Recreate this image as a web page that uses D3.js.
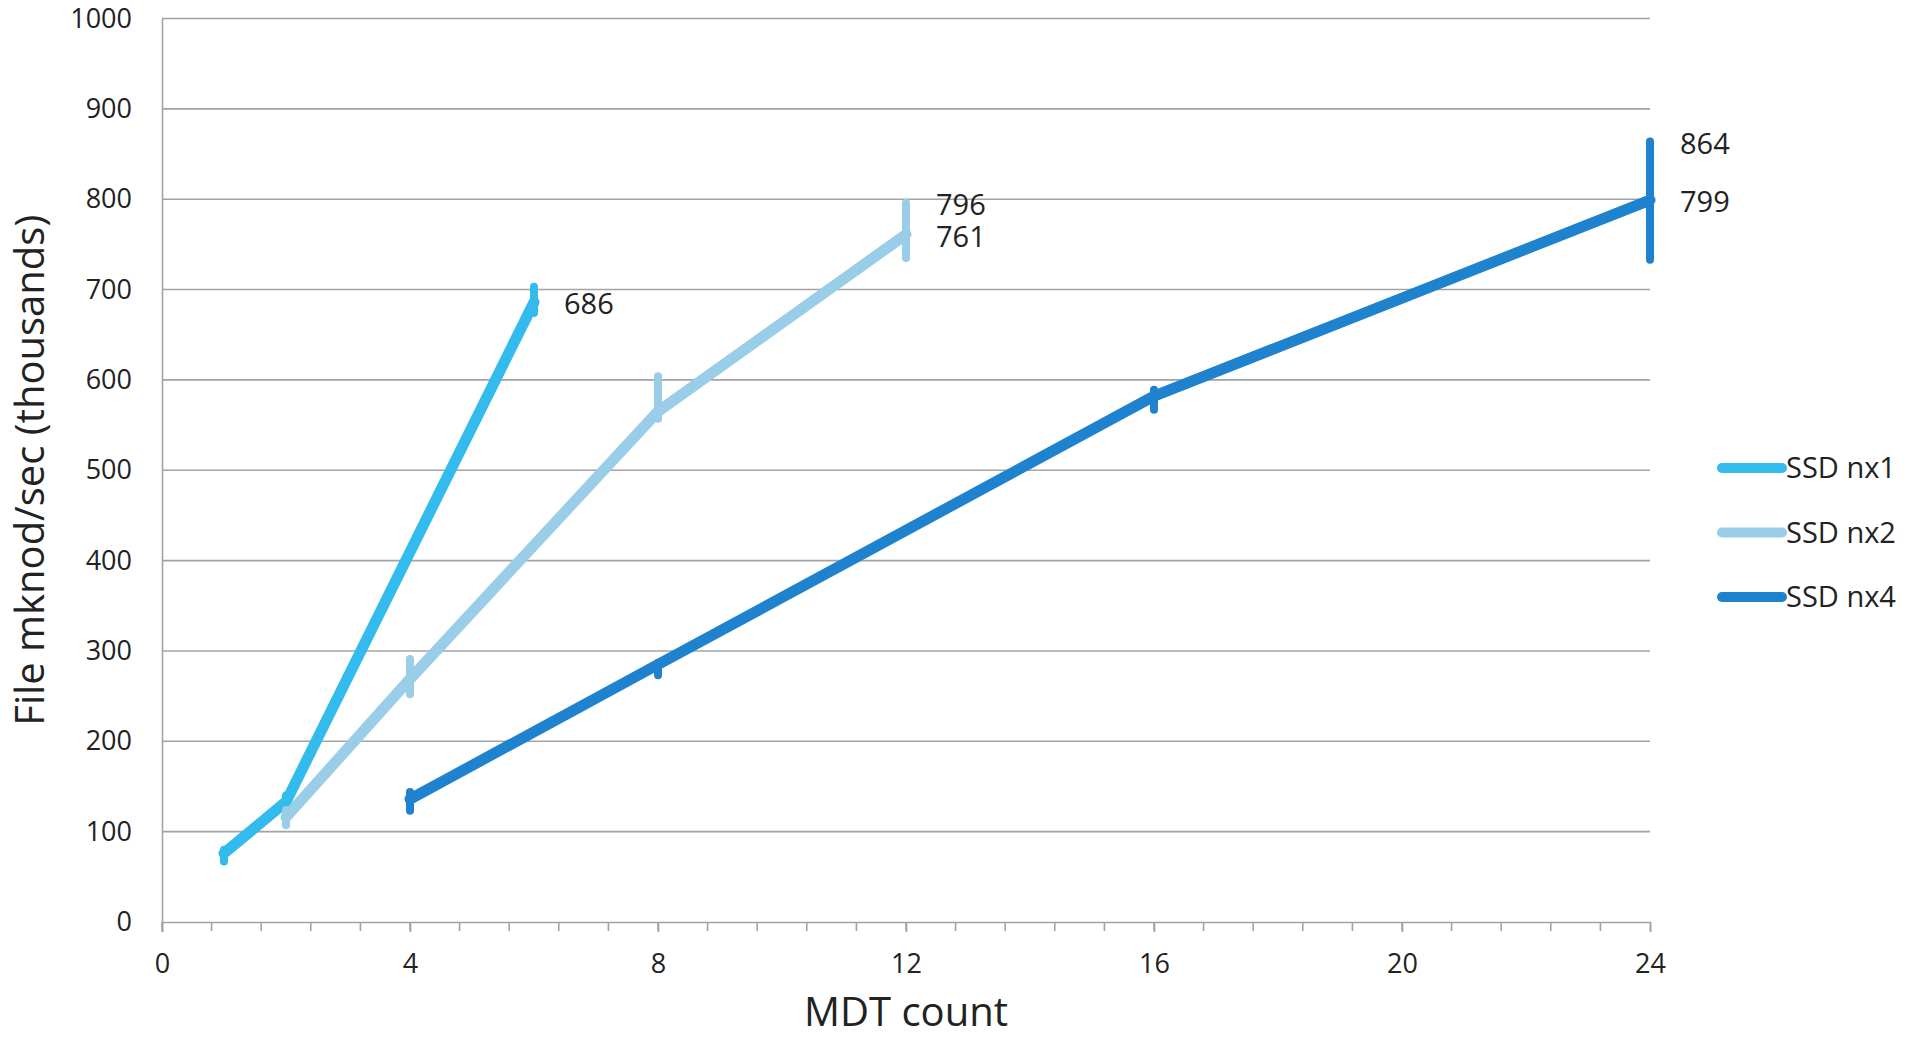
<!DOCTYPE html>
<html>
<head>
<meta charset="utf-8">
<script src="https://cdn.jsdelivr.net/npm/d3@7"></script>
<style>
  body { margin: 0; background: #fff; }
  text { font-family: "Open Sans", sans-serif; fill: #222; }
</style>
</head>
<body>
<div id="chart"></div>
<script>
// MDT count on x, mknod/sec (thousands) on y
const seriesNames = ["SSD nx1", "SSD nx2", "SSD nx4"];
const seriesColors = ["#33bbee", "#99cde8", "#1f82ce"];

const nx1X = [1, 2, 6];
const nx1Y = [76, 133, 686];
const nx1Lo = [67, 127, 674];
const nx1Hi = [80, 140, 703];

const nx2X = [2, 4, 8, 12];
const nx2Y = [116, 269, 565, 761];
const nx2Lo = [107, 252, 557, 735];
const nx2Hi = [124, 291, 604, 796];

const nx4X = [4, 8, 16, 24];
const nx4Y = [136, 285, 582, 799];
const nx4Lo = [123, 273, 567, 733];
const nx4Hi = [144, 287, 589, 864];

// labels shown at the right end of each series
const endLabels = [
    { x: 6, v: 686 },
    { x: 12, v: 796 },
    { x: 12, v: 761 },
    { x: 24, v: 864 },
    { x: 24, v: 799 }
];

const xTicks = [0, 4, 8, 12, 16, 20, 24];
const yTicks = [0, 100, 200, 300, 400, 500, 600, 700, 800, 900, 1000];

const width = 1907;
const height = 1038;
const margin = { top: 18.5, right: 257, bottom: 116, left: 162 };

const svg = d3.select("#chart")
    .append("svg")
    .attr("width", width)
    .attr("height", height);

const x = d3.scaleLinear()
    .domain([0, 24])
    .range([margin.left, width - margin.right]);

const y = d3.scaleLinear()
    .domain([0, 1000])
    .range([height - margin.bottom, margin.top]);

// gridlines
svg.append("g")
    .selectAll("line")
    .data(yTicks.slice(1))
    .join("line")
    .attr("x1", x(0))
    .attr("x2", x(24))
    .attr("y1", d => y(d))
    .attr("y2", d => y(d))
    .attr("stroke", "#a3a3a3")
    .attr("stroke-width", 1.6);

// y axis
const yAxis = svg.append("g")
    .attr("transform", `translate(${x(0)},0)`)
    .call(d3.axisLeft(y).tickValues(yTicks).tickFormat(d3.format("d")).tickSize(0).tickPadding(30));
yAxis.select(".domain").attr("stroke", "#a3a3a3").attr("stroke-width", 1.6);
yAxis.selectAll("text")
    .style("font-size", "27px")
    .style("font-family", "'Open Sans', sans-serif")
    .attr("fill", "#222");

// x axis, minor ticks every 0.8
const minorTicks = d3.range(0, 30).map(i => i * 0.8).filter(v => v <= 24.001);
svg.append("g")
    .selectAll("line")
    .data(minorTicks)
    .join("line")
    .attr("x1", d => x(d))
    .attr("x2", d => x(d))
    .attr("y1", y(0))
    .attr("y2", y(0) + 9)
    .attr("stroke", "#a3a3a3")
    .attr("stroke-width", 1.6);

const xAxis = svg.append("g")
    .attr("transform", `translate(0,${y(0)})`)
    .call(d3.axisBottom(x).tickValues(xTicks).tickSize(10).tickPadding(22));
xAxis.select(".domain").attr("stroke", "#a3a3a3").attr("stroke-width", 1.6);
xAxis.selectAll(".tick line").attr("stroke", "#a3a3a3").attr("stroke-width", 1.6);
xAxis.selectAll("text")
    .style("font-size", "27px")
    .style("font-family", "'Open Sans', sans-serif")
    .attr("fill", "#222");

// axis titles
svg.append("text")
    .attr("x", x(12))
    .attr("y", 1026)
    .attr("text-anchor", "middle")
    .style("font-size", "40px")
    .text("MDT count");

svg.append("text")
    .attr("transform", "rotate(-90)")
    .attr("x", -(y(0) + y(1000)) / 2)
    .attr("y", 44)
    .attr("text-anchor", "middle")
    .style("font-size", "40px")
    .text("File mknod/sec (thousands)");

// series
const series = [
    { xs: nx1X, ys: nx1Y, lo: nx1Lo, hi: nx1Hi },
    { xs: nx2X, ys: nx2Y, lo: nx2Lo, hi: nx2Hi },
    { xs: nx4X, ys: nx4Y, lo: nx4Lo, hi: nx4Hi }
];

const line = d3.line()
    .x(d => x(d[0]))
    .y(d => y(d[1]));

series.forEach((s, i) => {
    const pts = s.xs.map((xv, j) => [xv, s.ys[j]]);
    svg.append("path")
        .datum(pts)
        .attr("fill", "none")
        .attr("stroke", seriesColors[i])
        .attr("stroke-width", 11)
        .attr("stroke-linejoin", "round")
        .attr("stroke-linecap", "round")
        .attr("d", line);

    // error bars
    svg.append("g")
        .selectAll("line")
        .data(s.xs.map((xv, j) => ({ x: xv, lo: s.lo[j], hi: s.hi[j] })))
        .join("line")
        .attr("x1", d => x(d.x))
        .attr("x2", d => x(d.x))
        .attr("y1", d => y(d.lo))
        .attr("y2", d => y(d.hi))
        .attr("stroke", seriesColors[i])
        .attr("stroke-width", 8)
        .attr("stroke-linecap", "round");
});

// end labels
svg.append("g")
    .selectAll("text")
    .data(endLabels)
    .join("text")
    .attr("x", d => x(d.x) + 30)
    .attr("y", d => y(d.v))
    .attr("dy", "0.42em")
    .style("font-size", "29px")
    .text(d => d.v);

// legend
const legend = svg.append("g");
seriesNames.forEach((name, i) => {
    const ly = 468 + i * 64.5;
    legend.append("line")
        .attr("x1", 1722)
        .attr("x2", 1782)
        .attr("y1", ly)
        .attr("y2", ly)
        .attr("stroke", seriesColors[i])
        .attr("stroke-width", 10)
        .attr("stroke-linecap", "round");
    legend.append("text")
        .attr("x", 1786)
        .attr("y", ly)
        .attr("dy", "0.36em")
        .style("font-size", "29px")
        .text(name);
});
</script>
</body>
</html>
